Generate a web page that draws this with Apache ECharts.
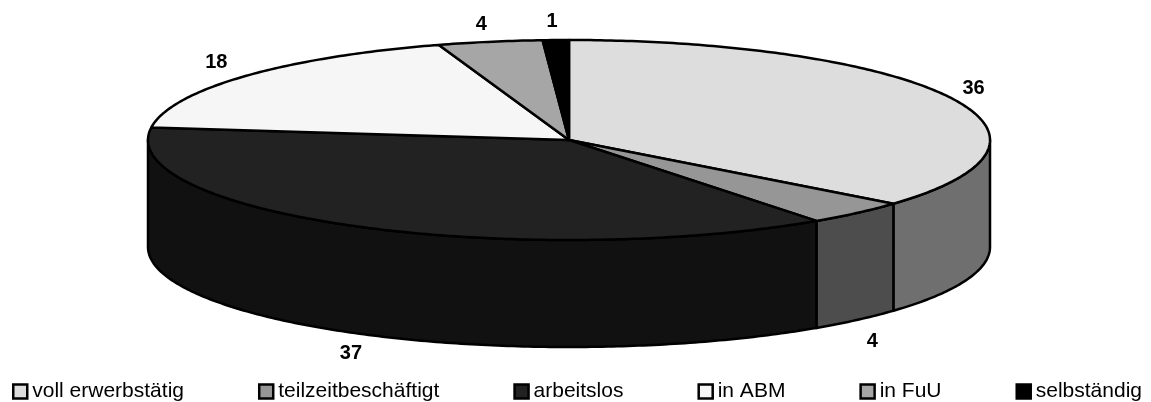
<!DOCTYPE html>
<html>
<head>
<meta charset="utf-8">
<title>Erwerbsstatus</title>
<style>
  html, body { margin: 0; padding: 0; background: #fff; }
  #main { width: 1151px; height: 402px; }
</style>
<script src="https://cdn.jsdelivr.net/npm/echarts@6/dist/echarts.min.js"></script>
</head>
<body>
<div id="main"></div>
<script>
// Werte aus dem Bild (Prozent), im Uhrzeigersinn ab 12 Uhr
var categories = ['voll erwerbstätig', 'teilzeitbeschäftigt', 'arbeitslos', 'in ABM', 'in FuU', 'selbständig'];
var values = [36, 4, 37, 18, 4, 1];
var topColors = ['#dddddd', '#969696', '#222222', '#f6f6f6', '#a6a6a6', '#000000'];
var wallColors = ['#6f6f6f', '#4d4d4d', '#111111', '#7b7b7b', '#535353', '#000000'];

// Lage der Scheibe
var cx = 569, cy = 140, rx = 421, ry = 100, depth = 107;
var labelGapX = 25, labelGapY = 20;
// kleine Korrektur je Beschriftung
var labelNudge = [[1, 0], [-2, 7], [9, 3], [-9, -1], [-4, 2], [-3, 1]];

var total = values.reduce(function (a, b) { return a + b; }, 0);

function ellipsePoint(angle, dy) {
  return [cx + rx * Math.sin(angle), cy - ry * Math.cos(angle) + (dy || 0)];
}

function arcPoints(from, to, dy) {
  var pts = [];
  var steps = Math.max(2, Math.ceil((to - from) * 80));
  for (var i = 0; i <= steps; i++) {
    pts.push(ellipsePoint(from + (to - from) * i / steps, dy));
  }
  return pts;
}

function makeRenderItem(index) {
  var before = 0;
  for (var i = 0; i < index; i++) before += values[i];
  var start = before / total * 2 * Math.PI;
  var end = (before + values[index]) / total * 2 * Math.PI;
  var mid = (start + end) / 2;

  return function () {
    var children = [];
    var lineStyle = { stroke: '#000', lineWidth: 2.5, lineJoin: 'round' };

    // Seitenwand nur vorne sichtbar (90 bis 270 Grad)
    var wallFrom = Math.max(start, Math.PI / 2);
    var wallTo = Math.min(end, Math.PI * 1.5);
    if (wallFrom < wallTo) {
      var wall = arcPoints(wallFrom, wallTo, 0).concat(arcPoints(wallFrom, wallTo, depth).reverse());
      children.push({
        type: 'polygon',
        shape: { points: wall },
        style: Object.assign({ fill: wallColors[index] }, lineStyle),
        z2: 1
      });
    }

    // Deckfläche
    var top = [[cx, cy]].concat(arcPoints(start, end, 0));
    children.push({
      type: 'polygon',
      shape: { points: top },
      style: Object.assign({ fill: topColors[index] }, lineStyle),
      z2: 2
    });

    // Beschriftung ausserhalb der Scheibe
    var front = Math.cos(mid) < 0;
    children.push({
      type: 'text',
      x: cx + (rx + labelGapX) * Math.sin(mid) + labelNudge[index][0],
      y: cy - (ry + labelGapY) * Math.cos(mid) + (front ? depth : 0) + labelNudge[index][1],
      style: {
        text: String(values[index]),
        font: 'bold 20px "Liberation Sans", Arial, sans-serif',
        fill: '#000',
        align: 'center',
        verticalAlign: 'middle'
      },
      z2: 3
    });

    return { type: 'group', children: children };
  };
}

var chart = echarts.init(document.getElementById('main'), null, { renderer: 'canvas' });

chart.setOption({
  animation: false,
  backgroundColor: '#fff',
  tooltip: { show: false },
  legend: {
    left: 12,
    top: 381,
    itemWidth: 14,
    itemHeight: 14,
    itemGap: 74,
    padding: 0,
    icon: 'rect',
    data: categories,
    selectedMode: false,
    itemStyle: { borderColor: '#000', borderWidth: 2.5 },
    textStyle: {
      fontFamily: '"Liberation Sans", Arial, sans-serif',
      fontSize: 21,
      color: '#000'
    }
  },
  series: categories.map(function (name, i) {
    return {
      type: 'custom',
      name: name,
      coordinateSystem: 'none',
      silent: true,
      itemStyle: { color: topColors[i] },
      renderItem: makeRenderItem(i),
      data: [values[i]]
    };
  })
});
</script>
</body>
</html>
